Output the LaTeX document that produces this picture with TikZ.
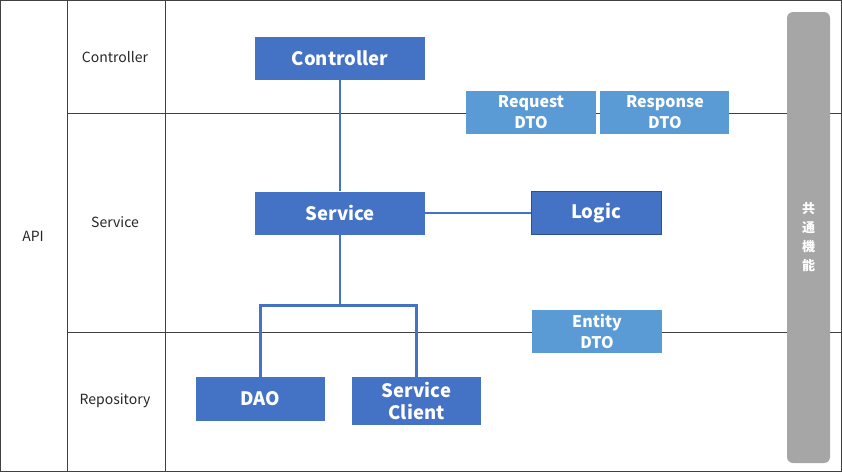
\documentclass[tikz,border=0pt]{standalone}
\usepackage{fontspec}
\setmainfont{Noto Sans CJK JP}
\usetikzlibrary{positioning,calc}
\definecolor{boxblue}{HTML}{4472C4}
\definecolor{dtoblue}{HTML}{5B9BD5}
\definecolor{edgeblue}{HTML}{2F528F}
\definecolor{framegray}{HTML}{404040}
\definecolor{barGray}{HTML}{A6A6A6}

\begin{document}
\begin{tikzpicture}[x=1pt, y=-1pt,
        layersty/.style={
            font=\fontsize{14}{16}\selectfont,
            text=black!85,
        },
        compsty/.style={
            rectangle, fill=boxblue,
            inner sep=0pt,
            minimum height=43pt,
            minimum width=170pt,
            text=white, align=center,
            font=\fontsize{18.5}{22}\selectfont\bfseries,
        },
        dtosty/.style={
            compsty, fill=dtoblue,
            minimum width=130pt,
            font=\fontsize{16}{21}\selectfont\bfseries,
        },
        framesty/.style={framegray, line width=0.9pt},
        linksty/.style={boxblue, line width=2.5pt},
    ]

    \useasboundingbox (0,0) rectangle (842,472);

    % frame of the layers
    \draw[framesty] (0.6,0.6) rectangle (841.4,471.4);
    \draw[framesty] (67,0) -- (67,472);
    \draw[framesty] (165,0) -- (165,472);
    \draw[framesty] (67,113) -- (842,113);
    \draw[framesty] (67,332) -- (842,332);

    \node[layersty] at (33,236) (api) {API};
    \node[layersty] at (115,57) (lctl) {Controller};
    \node[layersty] at (115,222) (lsvc) {Service};
    \node[layersty] at (115,401) (lrep) {Repository};

    % common functions bar
    \node[rectangle, rounded corners=6pt, fill=barGray, inner sep=0pt,
          minimum width=43pt, minimum height=451pt,
          text=white, align=center,
          font=\fontsize{13}{19}\selectfont\bfseries] at (808.5,237.5) (common)
          {共\\通\\機\\能};

    % components
    \node[compsty] at (340,58) (ctl) {Controller};
    \node[compsty] at (340,213) (svc) {Service};
    \node[compsty, minimum width=130pt, draw=edgeblue, line width=1pt] at (596,213) (logic) {Logic};
    \node[compsty, minimum width=129pt, minimum height=44pt] at (260.5,399) (dao) {DAO};
    \node[compsty, minimum width=129pt, minimum height=48pt] at (416.5,401) (cli) {Service\\Client};

    \node[dtosty] at (531,112.5) (req) {Request\\DTO};
    \node[dtosty, minimum width=129pt, right=4pt of req] (res) {Response\\DTO};
    \node[dtosty] at (597,331.5) (ent) {Entity\\DTO};

    % links
    \draw[linksty] (ctl.south) -- (svc.north);
    \draw[linksty] (svc.east) -- (logic.west);
    \draw[linksty] (svc.south) -- ++(0,71) coordinate (split);
    \draw[linksty] (split) -| (dao.north);
    \draw[linksty] (split) -| (cli.north);

\end{tikzpicture}
\end{document}
